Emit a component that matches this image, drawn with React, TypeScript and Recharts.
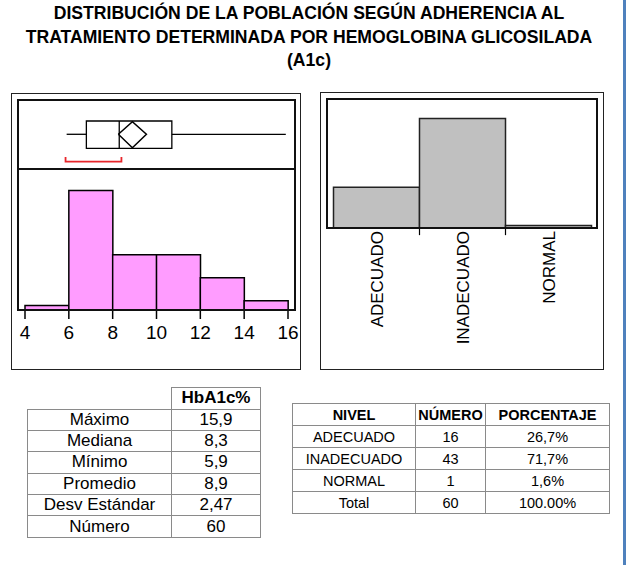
import {
  ComposedChart, BarChart, Bar, Line, XAxis, YAxis, ReferenceArea, ReferenceLine,
} from 'recharts';

const titleLines = [
  'DISTRIBUCIÓN DE LA POBLACIÓN SEGÚN ADHERENCIA AL',
  'TRATAMIENTO DETERMINADA POR HEMOGLOBINA GLICOSILADA',
  '(A1c)',
];

// histogram of HbA1c (bins of 2 units)
const binMids = [5, 7, 9, 11, 13, 15];
const binCounts = [1, 26, 12, 12, 7, 2];
const histTicks = [4, 6, 8, 10, 12, 14, 16];

// box plot summary
const boxMin = 5.9;
const boxQ1 = 6.8;
const boxMedian = 8.3;
const boxQ3 = 10.7;
const boxMax = 15.9;
const meanCi = [8.26, 8.9, 9.54];
const shortestHalf = [5.85, 8.4];

// adherence levels
const levels = ['ADECUADO', 'INADECUADO', 'NORMAL'];
const levelCounts = [16, 43, 1];
const levelPct = ['26,7%', '71,7%', '1,6%'];
const levelTotal = ['Total', '60', '100.00%'];

const statLabels = ['Máximo', 'Mediana', 'Mínimo', 'Promedio', 'Desv Estándar', 'Número'];
const statValues = ['15,9', '8,3', '5,9', '8,9', '2,47', '60'];

const histData = binMids.map((m, i) => ({ mid: m, count: binCounts[i] }));
const levelData = levels.map((l, i) => ({ level: l, count: levelCounts[i] }));

// vertical placement inside the box-plot strip (0..1)
const BOX_LO = 0.3;
const BOX_HI = 0.696;
const BOX_MID = 0.503;
const BR_BASE = 0.106;
const BR_TOP = 0.174;

const diamond = [
  { x: meanCi[0], y: BOX_MID },
  { x: meanCi[1], y: 0.686 },
  { x: meanCi[2], y: BOX_MID },
  { x: meanCi[1], y: 0.309 },
  { x: meanCi[0], y: BOX_MID },
];
const bracket = [
  { x: shortestHalf[0], y: BR_TOP },
  { x: shortestHalf[0], y: BR_BASE },
  { x: shortestHalf[1], y: BR_BASE },
  { x: shortestHalf[1], y: BR_TOP },
];

const FONT = '"Liberation Sans", Arial, sans-serif';
const pad = { left: 7, right: 7 };
const sideMargin = { top: 0, right: 18, bottom: 0, left: 18 };

const abs = (left: number, top: number, width: number, height: number, extra = {}) => ({
  position: 'absolute' as const, left, top, width, height, boxSizing: 'border-box' as const, ...extra,
});

function LevelTick({ x, y, payload }: any) {
  return (
    <text x={x} y={y} transform={`rotate(-90 ${x} ${y})`} textAnchor="end" dy="0.36em"
      fontSize={17} fontFamily={FONT} fill="#000">
      {payload.value}
    </text>
  );
}

const cell = (extra = {}) => ({
  border: '1px solid #8a8a8a', padding: 0, textAlign: 'center' as const, ...extra,
});

export default function App() {
  return (
    <div style={{ position: 'absolute', left: 0, top: 0, width: 627, height: 565, background: '#fff', fontFamily: FONT, color: '#000' }}>
      <div style={abs(0, 2, 618, 72, { textAlign: 'center', fontWeight: 'bold', fontSize: 17.6, lineHeight: '23.6px' })}>
        {titleLines.map((t) => <div key={t}>{t}</div>)}
      </div>
      <div style={abs(623, 0, 3, 565, { background: '#4f81bd' })} />

      {/* left panel: box plot + histogram */}
      <div style={abs(11, 93, 290, 277, { border: '1px solid #222' })} />
      <div style={abs(0, 100, 313, 69)}>
        <ComposedChart width={313} height={69} margin={sideMargin}>
          <XAxis type="number" dataKey="x" domain={[4, 16]} padding={pad} hide />
          <YAxis type="number" domain={[0, 1]} hide />
          <ReferenceLine segment={[{ x: boxMin, y: BOX_MID }, { x: boxQ1, y: BOX_MID }]} stroke="#000" strokeWidth={1.3} />
          <ReferenceLine segment={[{ x: boxQ3, y: BOX_MID }, { x: boxMax, y: BOX_MID }]} stroke="#000" strokeWidth={1.3} />
          <ReferenceArea x1={boxQ1} x2={boxQ3} y1={BOX_LO} y2={BOX_HI} fill="#fff" fillOpacity={1} stroke="#000" strokeWidth={1.3} />
          <ReferenceLine segment={[{ x: boxMedian, y: BOX_LO }, { x: boxMedian, y: BOX_HI }]} stroke="#000" strokeWidth={1.3} />
          <Line data={diamond} dataKey="y" stroke="#000" strokeWidth={1.5} dot={false} isAnimationActive={false} />
          <Line data={bracket} dataKey="y" stroke="#e8262b" strokeWidth={1.8} dot={false} isAnimationActive={false} />
        </ComposedChart>
      </div>
      <div style={abs(0, 169, 313, 181)}>
        <ComposedChart width={313} height={181} data={histData} barCategoryGap={0} barGap={0} margin={sideMargin}>
          <XAxis type="number" dataKey="mid" domain={[4, 16]} ticks={histTicks} padding={pad} height={40}
            axisLine={false} tickLine={{ stroke: '#000', strokeWidth: 1.5 }} tickSize={9} tickMargin={7}
            tick={{ fontSize: 19, fill: '#000', fontFamily: FONT }} interval={0} />
          <YAxis type="number" domain={[0, 30.65]} hide />
          <Bar dataKey="count" fill="#ff9cff" stroke="#000" strokeWidth={1.5} isAnimationActive={false} />
        </ComposedChart>
      </div>
      <div style={abs(17, 99, 279, 212, { border: '2px solid #111' })} />
      <div style={abs(17, 168, 279, 2, { background: '#111' })} />

      {/* right panel: adherence levels */}
      <div style={abs(320, 92, 284, 278, { border: '1px solid #222' })} />
      <div style={abs(327, 99, 270, 260)}>
        <BarChart width={270} height={260} data={levelData} barCategoryGap={0} barGap={0}
          margin={{ top: 0, right: 0, bottom: 0, left: 0 }}>
          <XAxis dataKey="level" padding={{ left: 6.5, right: 5.5 }} height={131} axisLine={false}
            tickLine={false} tickSize={0} tickMargin={3} tick={<LevelTick />} interval={0} />
          <YAxis type="number" domain={[0, 50.6]} hide />
          <Bar dataKey="count" fill="#c0c0c0" stroke="#222" strokeWidth={1.5} isAnimationActive={false} />
          {levels.slice(0, -1).map((l) => (
            <ReferenceLine key={l} position="end" ifOverflow="visible"
              segment={[{ x: l, y: 0 }, { x: l, y: -2.8 }]} stroke="#000" strokeWidth={1.2} />
          ))}
        </BarChart>
      </div>
      <div style={abs(326, 98, 272, 131, { border: '2px solid #111' })} />

      {/* summary table */}
      <table style={{ position: 'absolute', left: 27, top: 387, width: 233, borderCollapse: 'collapse', tableLayout: 'fixed', fontSize: 17, lineHeight: '20px' }}>
        <colgroup><col style={{ width: 144 }} /><col style={{ width: 89 }} /></colgroup>
        <tbody>
          <tr style={{ height: 21.5 }}>
            <td style={{ padding: 0 }} />
            <td style={cell({ fontWeight: 'bold' })}>HbA1c%</td>
          </tr>
          {statLabels.map((l, i) => (
            <tr key={l} style={{ height: 21.4 }}>
              <td style={cell()}>{l}</td>
              <td style={cell()}>{statValues[i]}</td>
            </tr>
          ))}
        </tbody>
      </table>

      <table style={{ position: 'absolute', left: 292, top: 403, width: 317, borderCollapse: 'collapse', tableLayout: 'fixed', fontSize: 14.5, lineHeight: '20px' }}>
        <colgroup><col style={{ width: 123 }} /><col style={{ width: 70 }} /><col style={{ width: 124 }} /></colgroup>
        <tbody>
          <tr style={{ height: 22 }}>
            <td style={cell({ fontWeight: 'bold' })}>NIVEL</td>
            <td style={cell({ fontWeight: 'bold' })}>NÚMERO</td>
            <td style={cell({ fontWeight: 'bold' })}>PORCENTAJE</td>
          </tr>
          {levels.map((l, i) => (
            <tr key={l} style={{ height: 22 }}>
              <td style={cell()}>{l}</td>
              <td style={cell()}>{levelCounts[i]}</td>
              <td style={cell()}>{levelPct[i]}</td>
            </tr>
          ))}
          <tr style={{ height: 22 }}>
            {levelTotal.map((t) => <td key={t} style={cell()}>{t}</td>)}
          </tr>
        </tbody>
      </table>
    </div>
  );
}
